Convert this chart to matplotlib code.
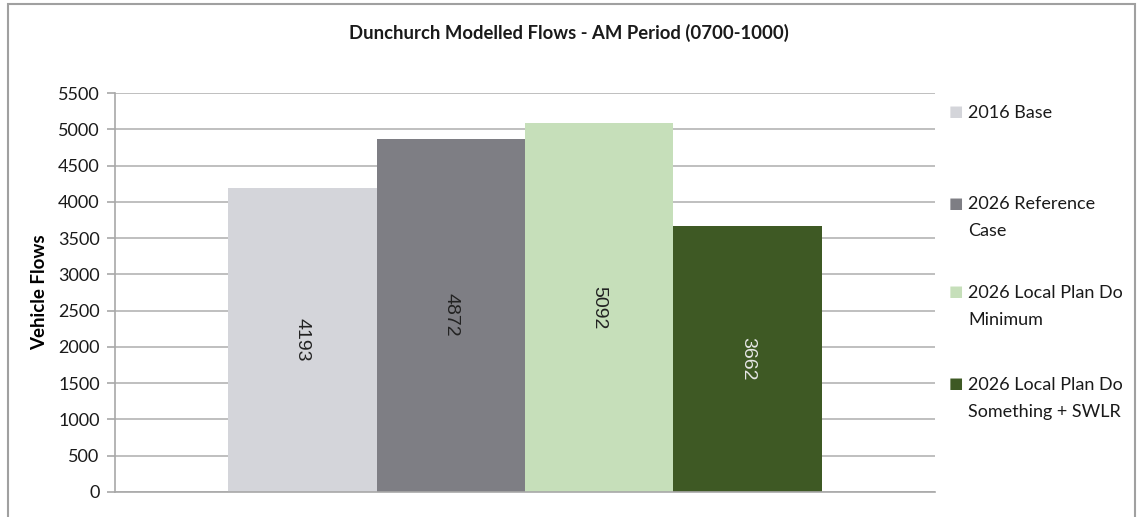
import matplotlib
matplotlib.use('Agg')
import matplotlib.pyplot as plt
from matplotlib.patches import Rectangle

plt.rcParams['font.family'] = ['Lato', 'DejaVu Sans']

# modelled AM flows at Dunchurch
scenarios = ['2016 Base', '2026 Reference\nCase', '2026 Local Plan Do\nMinimum',
             '2026 Local Plan Do\nSomething + SWLR']
flows = [4193, 4872, 5092, 3662]
colours = ['#d4d5da', '#7e7e84', '#c6dfba', '#3e5924']
label_colours = ['#222222', '#222222', '#222222', '#e6e6e6']
yticks = list(range(0, 5501, 500))

fig = plt.figure(figsize=(11.38, 5.17), dpi=100)
ax = fig.add_axes([115 / 1138, 1 - 492 / 517, 820 / 1138, 399 / 517])

width = 0.181
start = -2 * width
for i, (v, c) in enumerate(zip(flows, colours)):
    x = start + width * (i + 0.5)
    ax.bar(x, v, width=width, color=c, zorder=2)
    # value label sits in the middle of the bar
    ax.text(x, v / 2, str(v), rotation=-90, ha='center', va='center',
            fontsize=14, color=label_colours[i], zorder=3,
            family=['Liberation Sans', 'DejaVu Sans'])

ax.set_xlim(-0.5, 0.5)
ax.set_ylim(0, 5500)
ax.set_yticks(yticks)
ax.set_xticks([])
ax.yaxis.grid(True, color='#b4b4b4', linewidth=1.2, zorder=0)
ax.set_axisbelow(True)
for s in ['top', 'right']:
    ax.spines[s].set_visible(False)
for s in ['left', 'bottom']:
    ax.spines[s].set_color('#a8a8a8')
    ax.spines[s].set_linewidth(1.2)
ax.tick_params(axis='y', length=6, color='#a8a8a8', width=1.2, labelsize=13,
               labelcolor='#1a1a1a', pad=5)
ax.set_ylabel('Vehicle Flows', fontsize=13.5, fontweight='bold')
ax.yaxis.set_label_coords(-0.082, 0.5)

fig.text(0.5, 1 - 33 / 517, 'Dunchurch Modelled Flows - AM Period (0700-1000)',
         ha='center', va='center', fontsize=13.3, fontweight='bold', color='#1a1a1a')

# legend entries down the right-hand side
legend_y = [112, 203, 292, 384]
for name, c, y in zip(scenarios, colours, legend_y):
    fig.text(949 / 1138, 1 - y / 517, '\u25a0', color=c, fontsize=11,
             ha='left', va='center', family='DejaVu Sans')
    fig.text(968 / 1138, 1 - (y - 7) / 517, name, fontsize=13, color='#1a1a1a',
             ha='left', va='top', linespacing=1.85)

# chart border
fig.patches.append(Rectangle((8 / 1138, -0.05), 1127 / 1138, 1.05 - 4 / 517,
                             transform=fig.transFigure, fill=False,
                             edgecolor='#a0a0a0', linewidth=1.5))

fig.savefig('out.png', dpi=100)
